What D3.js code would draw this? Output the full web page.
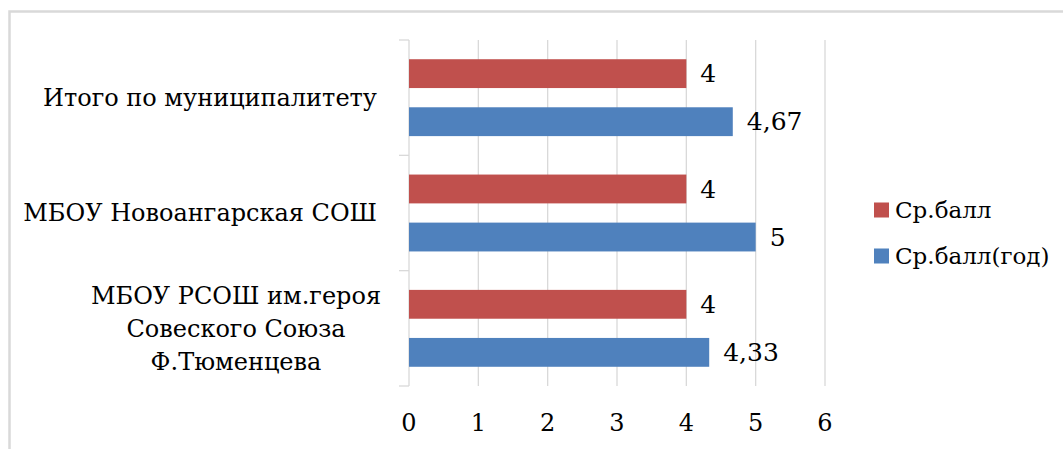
<!DOCTYPE html>
<html>
<head>
<meta charset="utf-8">
<script src="https://cdn.jsdelivr.net/npm/d3@7"></script>
<style>
  body { margin: 0; background: #fff; }
</style>
</head>
<body>
<svg id="chart"></svg>
<script>
// categories, top to bottom
const categories = [
  "Итого по муниципалитету",
  "МБОУ Новоангарская СОШ",
  "МБОУ РСОШ им.героя Совеского Союза Ф.Тюменцева"
];
// label lines as wrapped in the picture
const categoryLines = [
  ["Итого по муниципалитету"],
  ["МБОУ Новоангарская СОШ"],
  ["МБОУ РСОШ им.героя", "Совеского Союза", "Ф.Тюменцева"]
];
const seriesNames = ["Ср.балл", "Ср.балл(год)"];
const seriesColors = ["#c0504d", "#4f81bd"];
const avgScore = [4, 4, 4];
const avgScoreYear = [4.67, 5, 4.33];
const xTicks = [0, 1, 2, 3, 4, 5, 6];

const FONT = "DejaVu Serif";
const WIDTH = 1063, HEIGHT = 449;
const svg = d3.select("#chart").attr("width", WIDTH).attr("height", HEIGHT)
  .style("font-family", FONT);

// outer chart border (runs off the picture on the right and bottom)
svg.append("rect")
  .attr("x", 9.5).attr("y", 11.5)
  .attr("width", 1100).attr("height", 500)
  .attr("fill", "none").attr("stroke", "#d9d9d9").attr("stroke-width", 2.5);

const plot = { left: 409, right: 825, top: 40, bottom: 386 };

const x = d3.scaleLinear().domain([0, 6]).range([plot.left, plot.right]);
const y = d3.scaleBand().domain(categories).range([plot.top, plot.bottom]);
const ySub = d3.scaleBand().domain([0, 1]).range([0, y.bandwidth()])
  .paddingInner(0.4).paddingOuter(0.4);

// vertical gridlines
svg.append("g")
  .selectAll("line")
  .data(xTicks.slice(1))
  .enter()
  .append("line")
  .attr("x1", (d) => x(d)).attr("x2", (d) => x(d))
  .attr("y1", plot.top).attr("y2", plot.bottom)
  .attr("stroke", "#d9d9d9").attr("stroke-width", 1.3);

// category axis with outward ticks at band boundaries
const yAxis = svg.append("g");
yAxis.append("line")
  .attr("x1", plot.left).attr("x2", plot.left)
  .attr("y1", plot.top).attr("y2", plot.bottom)
  .attr("stroke", "#d9d9d9").attr("stroke-width", 1.3);
const bounds = categories.map((c) => y(c)).concat([plot.bottom]);
yAxis.selectAll(".tick")
  .data(bounds)
  .enter()
  .append("line")
  .attr("x1", plot.left - 10).attr("x2", plot.left)
  .attr("y1", (d) => d).attr("y2", (d) => d)
  .attr("stroke", "#d9d9d9").attr("stroke-width", 1.3);

// x tick labels
svg.append("g")
  .selectAll("text")
  .data(xTicks)
  .enter()
  .append("text")
  .attr("x", (d) => x(d))
  .attr("y", 431)
  .attr("text-anchor", "middle")
  .attr("font-size", 24)
  .text((d) => d);

// category labels
const LINE_H = 33;
categoryLines.forEach((lines, i) => {
  const cy = y(categories[i]) + y.bandwidth() / 2;
  const multi = lines.length > 1;
  const t = svg.append("text")
    .attr("text-anchor", multi ? "middle" : "end")
    .attr("font-size", 24);
  lines.forEach((ln, j) => {
    t.append("tspan")
      .attr("x", multi ? 236 : 377)
      .attr("y", cy + (j - (lines.length - 1) / 2) * LINE_H)
      .attr("dy", "0.35em")
      .text(ln);
  });
});

// bars: red series on top, blue below in each group
const seriesValues = [avgScore, avgScoreYear];
const fmt = (v) => String(v).replace(".", ",");
seriesValues.forEach((vals, s) => {
  const g = svg.append("g");
  g.selectAll("rect")
    .data(vals)
    .enter()
    .append("rect")
    .attr("x", x(0))
    .attr("y", (d, i) => y(categories[i]) + ySub(s))
    .attr("width", (d) => x(d) - x(0))
    .attr("height", ySub.bandwidth())
    .attr("fill", seriesColors[s]);
  g.selectAll("text")
    .data(vals)
    .enter()
    .append("text")
    .attr("x", (d) => x(d) + 14)
    .attr("y", (d, i) => y(categories[i]) + ySub(s) + ySub.bandwidth() / 2)
    .attr("dy", "0.35em")
    .attr("font-size", 25)
    .text((d) => fmt(d));
});

// legend
const legend = svg.append("g").attr("transform", "translate(874,0)");
seriesNames.forEach((name, i) => {
  const ly = 210 + i * 46;
  legend.append("rect")
    .attr("x", 0).attr("y", ly - 7.5)
    .attr("width", 15).attr("height", 15)
    .attr("fill", seriesColors[i]);
  legend.append("text")
    .attr("x", 21).attr("y", ly)
    .attr("dy", "0.35em")
    .attr("font-size", 23)
    .text(name);
});
</script>
</body>
</html>
